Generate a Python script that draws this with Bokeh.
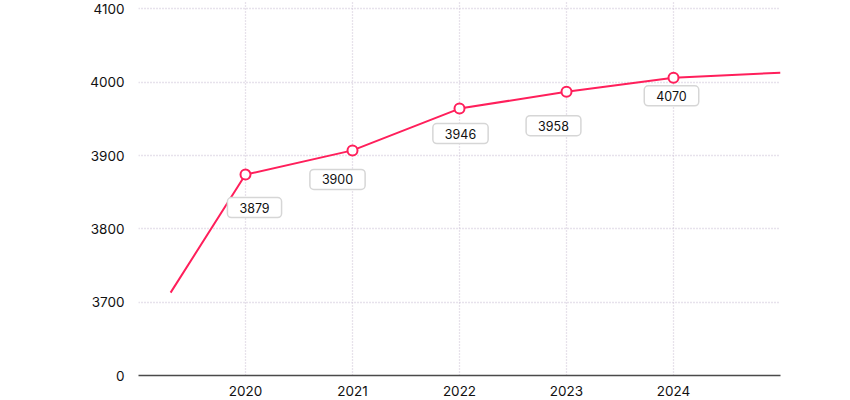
from bokeh.plotting import figure
from bokeh.models import ColumnDataSource, FixedTicker, Range1d
from bokeh.core.properties import value
from bokeh.embed import file_html
from bokeh.resources import INLINE

# ---- data ----
years = [2020, 2021, 2022, 2023, 2024]
line_x = [2019.3, 2020, 2021, 2022, 2023, 2024, 2025]
line_y = [3713, 3874, 3907, 3964, 3987, 4006, 4013]
point_y = [3874, 3907, 3964, 3987, 4006]
label_values = [3879, 3900, 3946, 3958, 4070]
y_ticks = [3600, 3700, 3800, 3900, 4000, 4100]
y_tick_labels = ["0", "3700", "3800", "3900", "4000", "4100"]
grid_x = [2019, 2020, 2021, 2022, 2023, 2024, 2025]

# label placement (pixel offsets, styling only)
label_dx = [9, -15, 1, -13, -2]
label_dy = [33, 29, 25, 34, 18]

RED = "#ff1f5b"
FONT = "Inter"

p = figure(width=850, height=400,
           x_range=Range1d(2019, 2025), y_range=Range1d(3600, 4111.4),
           output_backend="svg", toolbar_location=None,
           min_border_left=138, min_border_right=70,
           min_border_top=0, min_border_bottom=25)
p.outline_line_color = None
p.background_fill_color = "white"
p.border_fill_color = "white"

# axes
p.xaxis.ticker = FixedTicker(ticks=years)
p.yaxis.ticker = FixedTicker(ticks=y_ticks)
p.yaxis.major_label_overrides = {t: l for t, l in zip(y_ticks, y_tick_labels)}
for ax in (p.xaxis[0], p.yaxis[0]):
    ax.major_tick_line_color = None
    ax.minor_tick_line_color = None
    ax.major_label_text_font = FONT
    ax.major_label_text_font_size = "13.5px"
    ax.major_label_text_color = "#111111"
p.yaxis.axis_line_color = None
p.yaxis.major_label_standoff = 8
p.xaxis.axis_line_color = "#4a4a4a"
p.xaxis.axis_line_width = 1.5
p.xaxis.major_label_standoff = 4

# grid
p.xgrid.ticker = FixedTicker(ticks=grid_x)
p.ygrid.ticker = FixedTicker(ticks=y_ticks[1:])
for g in (p.xgrid[0], p.ygrid[0]):
    g.grid_line_color = "#cfc5d8"
    g.grid_line_dash = "1 2"
    g.grid_line_width = 1.3

# line + markers
p.line(line_x, line_y, line_color=RED, line_width=2)
p.scatter(years, point_y, size=10, marker="circle",
          fill_color="white", line_color=RED, line_width=2)

# data labels
src = ColumnDataSource(dict(x=years, y=point_y,
                            text=[str(v) for v in label_values],
                            dx=label_dx, dy=label_dy))
p.text(x="x", y="y", text="text", source=src, x_offset="dx", y_offset="dy",
       text_align="center", text_baseline="middle",
       text_font=value(FONT), text_font_size="12.5px", text_color="#111111",
       background_fill_color="white", border_line_color="#d6d6d6",
       border_line_width=1.5, border_radius=4,
       padding=dict(left=12, right=12, top=5, bottom=5))

open("out.html", "w").write(file_html(p, INLINE))
